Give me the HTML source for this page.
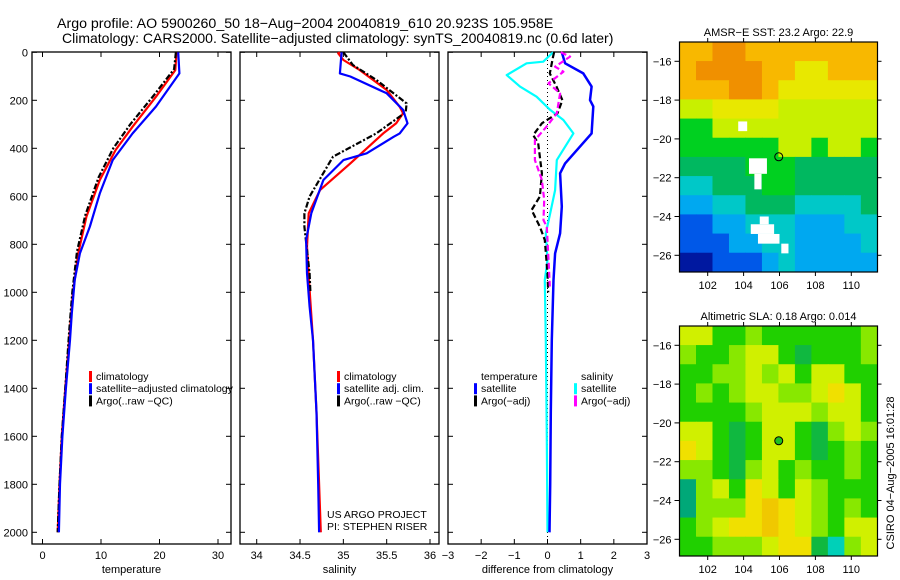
<!DOCTYPE html>
<html><head><meta charset="utf-8"><style>
html,body{margin:0;padding:0;background:#fff;}
svg{display:block;font-family:"Liberation Sans",sans-serif;}
</style></head><body>
<svg id="fig" width="900" height="580" viewBox="0 0 900 580" xmlns="http://www.w3.org/2000/svg">
<text x="57" y="28" font-size="14.2">Argo profile: AO 5900260_50 18−Aug−2004 20040819_610 20.923S 105.958E</text>
<text x="62" y="43" font-size="14">Climatology: CARS2000. Satellite−adjusted climatology: synTS_20040819.nc (0.6d later)</text>
<g id="g"></g>
</svg>
<script>
// ---------- DATA ----------
const tempClimDepth = [0,74,185,310,407,532,685,838,1004,1157,1400,1600,1800,2000];
const tempClim      = [22.9,22.7,19.4,15.4,12.5,9.8,7.5,6.1,5.2,4.7,3.9,3.3,2.9,2.6];
const tempSatDepth  = [0,88,226,338,449,588,726,838,949,1088,1199,1400,1600,1800,2000];
const tempSat       = [23.2,23.4,19.4,15.4,12.0,9.8,8.1,6.4,5.5,5.0,4.7,4.0,3.4,3.0,2.8];
const tempArgoDepth = [0,70,180,300,400,520,680,830,1000,1150,1400,1600,1800,2000];
const tempArgo      = [22.8,22.5,19.0,15.0,12.1,9.6,7.3,5.9,5.1,4.6,3.9,3.3,2.9,2.6];

const salClimDepth = [0,4,32,74,157,227,254,296,338,463,574,671,810,990,1199,1500,1800,2000];
const salClim      = [34.96,34.94,35.0,35.19,35.50,35.65,35.69,35.61,35.46,35.08,34.73,34.60,34.58,34.61,34.65,34.69,34.72,34.74];
const salSatDepth  = [0,88,101,171,240,296,338,352,421,449,532,671,782,921,1060,1199,1500,1800,2000];
const salSat       = [34.98,34.96,35.08,35.50,35.69,35.74,35.65,35.58,35.27,35.00,34.77,34.63,34.57,34.58,34.61,34.65,34.69,34.71,34.72];
const salArgoDepth = [0,53,115,213,250,338,435,601,671,727,921,1000];
const salArgo      = [35.0,35.11,35.38,35.73,35.72,35.38,34.88,34.61,34.55,34.55,34.61,34.62];

const diffTSatDepth = [0,46,88,143,199,226,338,393,463,504,643,754,838,949,1199,1500,1800,2000];
const diffTSat      = [0.43,0.53,1.08,1.33,1.28,1.38,1.33,0.98,0.53,0.38,0.43,0.38,0.23,0.18,0.13,0.1,0.08,0.06];
const diffSSatDepth = [0,39,46,95,143,185,240,282,338,449,574,671,754,866,949,1199,1600,2000];
const diffSSat      = [0.17,-0.13,-0.63,-1.23,-0.83,-0.33,0.08,0.48,0.78,0.28,0.23,0.08,-0.05,0.0,-0.08,-0.05,-0.02,0.0];
const diffTArgoDepth = [0,18,88,143,199,254,296,345,379,504,601,657,727,782,921,1000];
const diffTArgo      = [0.2,0.17,0.07,0.27,0.45,0.3,-0.17,-0.43,-0.28,-0.17,-0.23,-0.48,-0.23,-0.08,0.0,0.02];
const diffSArgoDepth = [0,18,60,81,129,171,254,310,366,449,532,615,699,727,921,976];
const diffSArgo      = [0.4,0.68,0.23,0.48,0.03,0.38,0.28,-0.03,-0.38,-0.38,-0.17,-0.1,-0.12,-0.02,0.05,0.07];

const depthTicks = [0,200,400,600,800,1000,1200,1400,1600,1800,2000];
const tempTicks = [0,10,20,30];
const salTicks = [34,34.5,35,35.5,36];
const salTickLabels = ["34","34.5","35","35.5","36"];
const diffTicks = [-3,-2,-1,0,1,2,3];
const lonTicks = [102,104,106,108,110];
const latTicks = [-16,-18,-20,-22,-24,-26];

const sstTitle = "AMSR−E SST: 23.2 Argo: 22.9";
const slaTitle = "Altimetric SLA: 0.18 Argo: 0.014";
const sstGrid = [
[8,8,9,9,8,8,8,8,8,8,8,8],
[8,9,9,9,9,8,8,7,7,8,8,8],
[8,8,8,9,9,8,7,7,7,7,7,7],
[6,6,7,7,7,7,6,6,6,6,6,6],
[5,5,6,6,6,6,6,6,6,6,6,6],
[5,5,5,5,5,5,6,6,5,6,6,5],
[4,4,4,4,5,5,5,4,4,4,4,4],
[3,3,4,4,4,5,5,4,4,4,4,4],
[2,2,3,3,4,4,4,3,3,3,3,4],
[1,1,2,2,3,3,3,2,2,2,3,3],
[1,1,1,2,2,3,3,2,2,2,2,3],
[0,0,1,1,1,2,3,2,2,2,2,2]];
const sstMissing = [[103.7,-19.1,104.2,-19.6],[104.3,-21.0,105.3,-21.8],[104.6,-21.8,105.0,-22.6],[104.9,-24.0,105.4,-24.4],[104.4,-24.4,105.7,-24.9],[104.8,-24.9,106.0,-25.4],[106.1,-25.4,106.5,-25.9]];
const slaGrid = [
[5,5,3,3,4,3,3,3,3,3,3,4],
[4,3,3,4,5,5,3,2,3,3,3,4],
[3,3,4,4,5,4,5,3,5,5,3,3],
[3,4,3,4,5,5,4,4,5,6,5,3],
[3,3,3,3,4,5,5,5,4,5,5,3],
[5,5,3,2,3,5,5,3,2,4,5,4],
[6,5,3,2,3,5,5,3,2,3,4,3],
[4,4,3,2,4,5,3,4,3,3,4,3],
[1,4,5,3,6,5,3,5,4,3,3,3],
[1,4,4,4,6,7,6,5,4,3,4,3],
[3,4,5,6,6,7,6,5,4,3,5,5],
[3,3,4,4,4,5,6,6,2,0,4,5]];
const floatLon = 105.958, floatLat = -20.923;

// ---------- drawing ----------
const NS = "http://www.w3.org/2000/svg";
const G = document.getElementById("g");
function el(tag, attrs, parent){ const e=document.createElementNS(NS,tag); for(const k in attrs) e.setAttribute(k,attrs[k]); (parent||G).appendChild(e); return e; }
function txt(s,x,y,size,anchor,parent){ const t=el("text",{x:x,y:y,"font-size":size,"text-anchor":anchor||"start"},parent); t.textContent=s; return t; }
function lin(d0,d1,r0,r1){ return v=> r0+(v-d0)*(r1-r0)/(d1-d0); }

const Y = lin(0,2000,52.3,532.3);
const TOP=52, BOT=544;
const panels = [
  {name:"temperature-panel", x0:32, x1:231, X:lin(0,30,42.5,218), ticks:tempTicks, labels:tempTicks.map(String), title:"temperature", yLabels:true},
  {name:"salinity-panel", x0:240, x1:439, X:lin(34,36,256.7,430), ticks:salTicks, labels:salTickLabels, title:"salinity"},
  {name:"difference-panel", x0:448, x1:647, X:lin(-3,3,448,647), ticks:diffTicks, labels:diffTicks.map(v=>v<0?"−"+(-v):String(v)), title:"difference from climatology"}
];
panels.forEach(p=>{
  const g = el("g",{});
  
  
  el("rect",{x:p.x0,y:TOP,width:p.x1-p.x0,height:BOT-TOP,fill:"none",stroke:"#000","stroke-width":1.3},g);
  p.ticks.forEach((v,i)=>{
    const x=p.X(v);
    el("line",{x1:x,x2:x,y1:BOT,y2:BOT-5,stroke:"#000"},g);
    el("line",{x1:x,x2:x,y1:TOP,y2:TOP+5,stroke:"#000"},g);
    const t=txt(p.labels[i],x,559,11,"middle",g);
    
    
  });
  depthTicks.forEach(d=>{
    const y=Y(d);
    el("line",{x1:p.x0,x2:p.x0+5,y1:y,y2:y,stroke:"#000"},g);
    el("line",{x1:p.x1,x2:p.x1-5,y1:y,y2:y,stroke:"#000"},g);
    if(p.yLabels){ const t=txt(String(d),28,y+4,11,"end",g);
      
       }
  });
  const at=txt(p.title,(p.x0+p.x1)/2,573,11,"middle",g);
  
  
  p.g=g;
});
function profile(p,depths,vals,color,dash,w,name){
  const pts=depths.map((d,i)=>p.X(vals[i]).toFixed(1)+","+Y(d).toFixed(1)).join(" ");
  const a={points:pts,fill:"none",stroke:color,"stroke-width":w||2.2,"stroke-linejoin":"round"};
  if(dash) a["stroke-dasharray"]=dash;
  const l=el("polyline",a,p.g);
  
  
}
profile(panels[0],tempClimDepth,tempClim,"#f00",null,2.2,"temp-climatology-line");
profile(panels[0],tempArgoDepth,tempArgo,"#000","6,2,2,2",2.2,"temp-argo-line");
profile(panels[0],tempSatDepth,tempSat,"#00f",null,2.2,"temp-satellite-line");
profile(panels[1],salClimDepth,salClim,"#f00",null,2.2,"sal-climatology-line");
profile(panels[1],salArgoDepth,salArgo,"#000","6,2,2,2",2.2,"sal-argo-line");
profile(panels[1],salSatDepth,salSat,"#00f",null,2.2,"sal-satellite-line");
const pd=panels[2];
const zl=el("line",{x1:pd.X(0),x2:pd.X(0),y1:TOP,y2:BOT,stroke:"#000","stroke-dasharray":"1,3"},pd.g);


profile(pd,diffSSatDepth,diffSSat,"#0ff",null,2.2,"diff-sal-satellite-line");
profile(pd,diffTSatDepth,diffTSat,"#00f",null,2.5,"diff-temp-satellite-line");
profile(pd,diffTArgoDepth,diffTArgo,"#000","6,3",2.2,"diff-temp-argo-line");
profile(pd,diffSArgoDepth,diffSArgo,"#f0f","6,3",2.2,"diff-sal-argo-line");

function legend(x,items,name){
  const g=el("g",{});
  
  
  items.forEach((it,i)=>{
    const y=376+i*12.2;
    if(it[1]) el("rect",{x:x,y:y-5,width:3,height:11,fill:it[1]},g);
    txt(it[0],x+7,y+4,10.5,"start",g);
  });
}
legend(89,[["climatology","#f00"],["satellite−adjusted climatology","#00f"],["Argo(..raw −QC)","#000"]],"temperature-legend");
legend(337,[["climatology","#f00"],["satellite adj. clim.","#00f"],["Argo(..raw −QC)","#000"]],"salinity-legend");
legend(474,[["temperature",null],["satellite","#00f"],["Argo(−adj)","#000"]],"diff-temperature-legend");
legend(574,[["salinity",null],["satellite","#0ff"],["Argo(−adj)","#f0f"]],"diff-salinity-legend");
const c1=txt("US ARGO PROJECT",327,518,10.5,"start");  
const c2=txt("PI: STEPHEN RISER",327,530,10.5,"start");  

const sstColors=["#0018a0","#0058e8","#00a8f0","#00c8c8","#00b860","#00d020","#c8f000","#e8e800","#f8b800","#f09000"];
const slaColors=["#00d0b8","#00a878","#10b840","#20d000","#88e800","#d0f000","#f0e000","#f0c800"];
function map(top,bot,title,grid,colors,missing,name,dotFill){
  const LX=lin(102,110,707.7,851.3);
  const LY=lin(-16,-26,top+19.3,top+19.3+194);
  const x0=679.5,x1=877.5;
  const g=el("g",{});
  
  
  const lon0=100.43,lon1=111.45,lat0=-15.0,lat1=lat0-(bot-top)/19.4;
  const nr=grid.length,nc=grid[0].length;
  grid.forEach((row,r)=>row.forEach((v,c)=>{
    const la=lon0+(lon1-lon0)*c/nc, lb=lon0+(lon1-lon0)*(c+1)/nc;
    const ta=lat0+(lat1-lat0)*r/nr, tb=lat0+(lat1-lat0)*(r+1)/nr;
    const cell=el("rect",{x:LX(la),y:LY(ta),width:LX(lb)-LX(la)+0.5,height:LY(tb)-LY(ta)+0.5,fill:colors[v]},g);
    
    
  }));
  (missing||[]).forEach(m=>{
    const w=el("rect",{x:LX(m[0]),y:LY(m[1]),width:LX(m[2])-LX(m[0]),height:LY(m[3])-LY(m[1]),fill:"#fff"},g);
    
    
  });
  el("rect",{x:x0,y:top,width:x1-x0,height:bot-top,fill:"none",stroke:"#000","stroke-width":1.2},g);
  lonTicks.forEach(v=>{
    el("line",{x1:LX(v),x2:LX(v),y1:top,y2:top-4,stroke:"#000"},g);
    el("line",{x1:LX(v),x2:LX(v),y1:bot,y2:bot+4,stroke:"#000"},g);
    const t=txt(String(v),LX(v),bot+17,11,"middle",g);
    
    
  });
  latTicks.forEach(v=>{
    el("line",{x1:x0,x2:x0-5,y1:LY(v),y2:LY(v),stroke:"#000"},g);
    el("line",{x1:x1,x2:x1+4,y1:LY(v),y2:LY(v),stroke:"#000"},g);
    const t=txt("−"+(-v),x0-8,LY(v)+4,11,"end",g);
    
    
  });
  const tt=txt(title,(x0+x1)/2,top-6,11,"middle",g);
  
  
  const dot=el("circle",{cx:LX(floatLon),cy:LY(floatLat),r:4,fill:dotFill,stroke:"#000","stroke-width":1},g);
  
  
}
map(42,272,sstTitle,sstGrid,sstColors,sstMissing,"sst-map","none");
map(326,556,slaTitle,slaGrid,slaColors,[],"sla-map","#20c020");
const cs=txt("CSIRO 04−Aug−2005 16:01:28",0,0,11,"middle");
cs.setAttribute("transform","translate(894,473) rotate(-90)");


</script>
</body></html>
